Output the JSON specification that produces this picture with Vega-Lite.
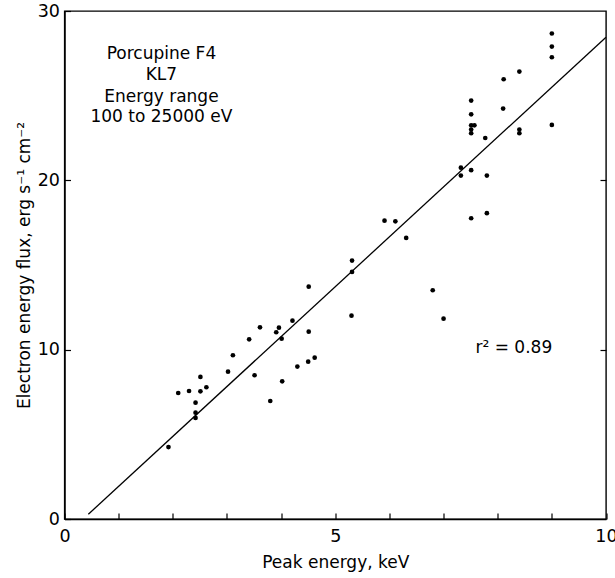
{
  "$schema": "https://vega.github.io/schema/vega-lite/v6.json",
  "width": 541.5,
  "height": 508,
  "autosize": {"type": "none"},
  "padding": {"left": 64.5, "top": 11, "right": 9, "bottom": 59},
  "background": "white",
  "config": {
    "font": "DejaVu Sans",
    "view": {"stroke": "black", "strokeWidth": 1.4},
    "axis": {
      "domainColor": "black",
      "domainWidth": 1.4,
      "tickColor": "black",
      "tickWidth": 1.2,
      "labelColor": "black",
      "titleColor": "black",
      "labelFont": "DejaVu Sans",
      "titleFont": "DejaVu Sans",
      "labelFontSize": 17.5,
      "titleFontSize": 17,
      "titleFontWeight": "normal",
      "grid": false,
      "labelFlush": false,
      "labelOverlap": false
    }
  },
  "datasets": {
    "pts": [
      {"peak": 1.92, "flux": 4.25}, {"peak": 2.10, "flux": 7.44}, {"peak": 2.30, "flux": 7.56},
      {"peak": 2.42, "flux": 6.87}, {"peak": 2.42, "flux": 6.28}, {"peak": 2.42, "flux": 5.97},
      {"peak": 2.51, "flux": 7.54}, {"peak": 2.51, "flux": 8.39}, {"peak": 2.62, "flux": 7.78},
      {"peak": 3.02, "flux": 8.70}, {"peak": 3.11, "flux": 9.67}, {"peak": 3.41, "flux": 10.61},
      {"peak": 3.51, "flux": 8.49}, {"peak": 3.61, "flux": 11.32}, {"peak": 3.80, "flux": 6.97},
      {"peak": 3.91, "flux": 11.03}, {"peak": 3.96, "flux": 11.30}, {"peak": 4.01, "flux": 10.65},
      {"peak": 4.02, "flux": 8.13}, {"peak": 4.21, "flux": 11.71}, {"peak": 4.30, "flux": 9.00},
      {"peak": 4.50, "flux": 9.29}, {"peak": 4.51, "flux": 11.06}, {"peak": 4.51, "flux": 13.72},
      {"peak": 4.62, "flux": 9.53}, {"peak": 5.30, "flux": 12.01}, {"peak": 5.31, "flux": 14.59},
      {"peak": 5.31, "flux": 15.26}, {"peak": 5.91, "flux": 17.62}, {"peak": 6.11, "flux": 17.58},
      {"peak": 6.31, "flux": 16.60}, {"peak": 6.80, "flux": 13.51}, {"peak": 7.00, "flux": 11.83},
      {"peak": 7.32, "flux": 20.28}, {"peak": 7.32, "flux": 20.75}, {"peak": 7.51, "flux": 20.60},
      {"peak": 7.51, "flux": 17.76}, {"peak": 7.80, "flux": 18.06}, {"peak": 7.80, "flux": 20.28},
      {"peak": 7.51, "flux": 22.78}, {"peak": 7.51, "flux": 23.00}, {"peak": 7.51, "flux": 23.25},
      {"peak": 7.57, "flux": 23.25}, {"peak": 7.51, "flux": 23.90}, {"peak": 7.51, "flux": 24.71},
      {"peak": 7.77, "flux": 22.50}, {"peak": 8.10, "flux": 24.24}, {"peak": 8.11, "flux": 25.97},
      {"peak": 8.40, "flux": 26.42}, {"peak": 8.40, "flux": 23.00}, {"peak": 8.40, "flux": 22.78},
      {"peak": 9.00, "flux": 23.27}, {"peak": 9.00, "flux": 27.27}, {"peak": 9.00, "flux": 27.90},
      {"peak": 9.00, "flux": 28.67}
    ],
    "fit": [
      {"peak": 0.44, "flux": 0.28},
      {"peak": 10.0, "flux": 28.45}
    ],
    "notes": [
      {"label": "Porcupine F4", "peak": 1.79, "flux": 27.45},
      {"label": "KL7", "peak": 1.79, "flux": 26.25},
      {"label": "Energy range", "peak": 1.79, "flux": 24.95},
      {"label": "100 to 25000 eV", "peak": 1.79, "flux": 23.75}
    ],
    "r2": [
      {"label": "r² = 0.89", "peak": 7.59, "flux": 10.1}
    ]
  },
  "resolve": {"axis": {"y": "independent"}},
  "layer": [
    {
      "data": {"name": "pts"},
      "mark": {"type": "point", "filled": true, "color": "black", "size": 22, "opacity": 1},
      "encoding": {
        "x": {
          "field": "peak", "type": "quantitative",
          "scale": {"domain": [0, 10], "nice": false, "zero": false},
          "axis": {
            "values": [0, 1, 2, 3, 4, 5, 6, 7, 8, 9, 10],
            "labelExpr": "datum.value % 5 === 0 ? datum.label : ''",
            "tickSize": -6,
            "labelPadding": 14,
            "title": "Peak energy, keV",
            "titlePadding": 10
          }
        },
        "y": {
          "field": "flux", "type": "quantitative",
          "scale": {"domain": [0, 30], "nice": false, "zero": false},
          "axis": {
            "values": [0, 10, 20, 30],
            "tickSize": -6,
            "labelPadding": 11,
            "title": "Electron energy flux, erg s⁻¹ cm⁻²",
            "titlePadding": 4
          }
        }
      }
    },
    {
      "data": {"name": "fit"},
      "mark": {"type": "line", "color": "black", "strokeWidth": 1.3},
      "encoding": {
        "x": {"field": "peak", "type": "quantitative"},
        "y": {
          "field": "flux", "type": "quantitative",
          "axis": {"orient": "right", "values": [10, 20], "tickSize": -6, "labels": false, "domain": false, "title": null}
        }
      }
    },
    {
      "data": {"name": "notes"},
      "mark": {"type": "text", "align": "center", "baseline": "middle", "fontSize": 17, "color": "black", "font": "DejaVu Sans"},
      "encoding": {
        "x": {"field": "peak", "type": "quantitative"},
        "y": {"field": "flux", "type": "quantitative", "axis": null},
        "text": {"field": "label"}
      }
    },
    {
      "data": {"name": "r2"},
      "mark": {"type": "text", "align": "left", "baseline": "middle", "fontSize": 17, "color": "black", "font": "DejaVu Sans"},
      "encoding": {
        "x": {"field": "peak", "type": "quantitative"},
        "y": {"field": "flux", "type": "quantitative", "axis": null},
        "text": {"field": "label"}
      }
    }
  ]
}
